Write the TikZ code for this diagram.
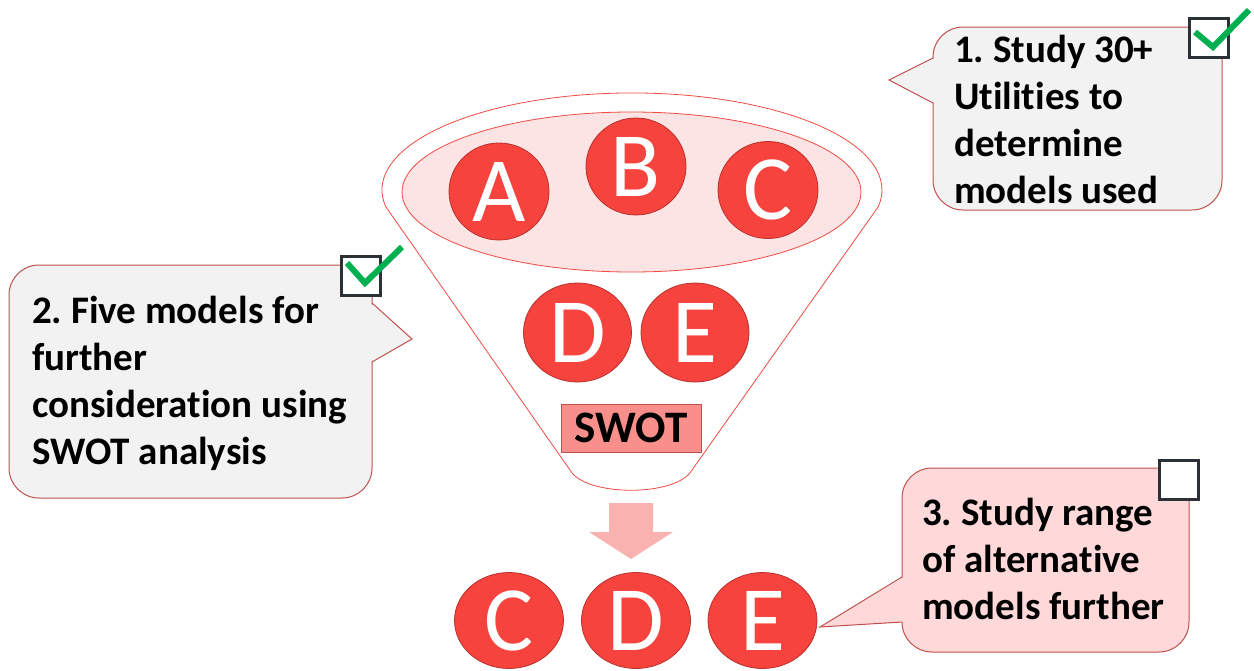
\documentclass[tikz,border=0pt]{standalone}
\usepackage{fontspec}
\setmainfont{Carlito}[Ligatures=NoCommon]
\usetikzlibrary{shapes.geometric}
\definecolor{circfill}{HTML}{F7433D}
\definecolor{circline}{HTML}{B8322D}
\definecolor{funline}{HTML}{EE4A44}
\definecolor{innerfill}{HTML}{FDE4E4}
\definecolor{swotfill}{HTML}{F98F8A}
\definecolor{bubline}{HTML}{C0504D}
\definecolor{bubgray}{HTML}{F2F2F2}
\definecolor{bubpink}{HTML}{FFD9D9}
\definecolor{arrowfill}{HTML}{F9B2B0}
\definecolor{boxline}{HTML}{2B3137}
\definecolor{checkgreen}{HTML}{00B050}
\newcommand\bublines[1]{\begin{tabular}[t]{@{}l@{}}#1\end{tabular}}
\frenchspacing
\begin{document}
\begin{tikzpicture}[x=1pt,y=-1pt,
 letter/.style={ellipse, draw=circline, line width=0.8pt, fill=circfill, text=white, inner sep=0pt, font=\fontsize{92}{92}\selectfont},
 bubtext/.style={anchor=base west, inner sep=0pt, font=\fontsize{39}{47}\selectfont\bfseries},
 checkbox/.style={draw=boxline, line width=3pt, fill=white, minimum width=39pt, minimum height=39pt, inner sep=0pt},
 tick/.style={draw=checkgreen, line width=6pt},
 bubble/.style={draw=bubline, line width=1pt, rounded corners=30pt},
 pointer/.style={draw=bubline, line width=1pt}]
\useasboundingbox (0,0) rectangle (1254,670);
% funnel
\draw[funline, line width=0.8pt, fill=white] (385.8,206.8) arc[start angle=170, end angle=370, x radius=250, y radius=97] -- (692,470) .. controls (677,497) and (585,497) .. (570,470) -- cycle;
\node[ellipse, draw=funline, line width=0.8pt, fill=innerfill, minimum width=459pt, minimum height=160pt, inner sep=0pt] (pool) at (631.5,192) {};
\node[letter, minimum width=100pt, minimum height=97pt] (A) at (499,191.5) {A};
\node[letter, minimum width=100pt, minimum height=97pt] (B) at (636,166.5) {B};
\node[letter, minimum width=100pt, minimum height=97pt] (C) at (768,190) {C};
\node[letter, minimum width=108pt, minimum height=99pt] (D) at (577.5,332.5) {D};
\node[letter, minimum width=108pt, minimum height=99pt] (E) at (695,332.5) {E};
\node[draw=bubline, line width=0.8pt, fill=swotfill, minimum width=140pt, minimum height=48pt, inner sep=0pt, font=\fontsize{45}{45}\selectfont\bfseries] (swot) at (631,428) {SWOT};
% arrow
\fill[arrowfill] (609,503) -- (653,503) -- (653,532) -- (673,532) -- (631,559) -- (589,532) -- (609,532) -- cycle;
\node[letter, minimum width=109pt, minimum height=96pt] (C2) at (509,620.5) {C};
\node[letter, minimum width=109pt, minimum height=96pt] (D2) at (636,620.5) {D};
\node[letter, minimum width=109pt, minimum height=96pt] (E2) at (762.5,620.5) {E};
% bubble 1
\draw[bubble, fill=bubgray] (933,27) rectangle (1222,210);
\fill[bubgray] (935,58) -- (889,80) -- (935,103) -- cycle;
\draw[pointer] (933,58) -- (889,80) -- (933,103);
\node[bubtext] (t1) at (954,62) {\bublines{1. Study 30+\\Utilities to\\determine\\models used}};
\node[checkbox] (cb1) at (1209,37.5) {};
\draw[tick] (1195,32) -- (1213,47) -- (1249,10);
% bubble 2
\draw[bubble, fill=bubgray] (9,265) rectangle (372,498);
\fill[bubgray] (370,303) -- (412,339) -- (370,362) -- cycle;
\draw[pointer] (372,303) -- (412,339) -- (372,362);
\node[bubtext] (t2) at (32,323) {\bublines{2. Five models for\\further\\consideration using\\SWOT analysis}};
\node[checkbox] (cb2) at (361,275.5) {};
\draw[tick] (347,263) -- (365,283) -- (402,247);
% bubble 3
\draw[bubble, fill=bubpink] (902,468) rectangle (1189,652);
\fill[bubpink] (904,577) -- (820,627) -- (904,622) -- cycle;
\draw[pointer] (902,577) -- (820,627) -- (902,622);
\node[bubtext] (t3) at (922,525) {\bublines{3. Study range\\of alternative\\models further}};
\node[checkbox] (cb3) at (1178.5,479.5) {};
\end{tikzpicture}
\end{document}
